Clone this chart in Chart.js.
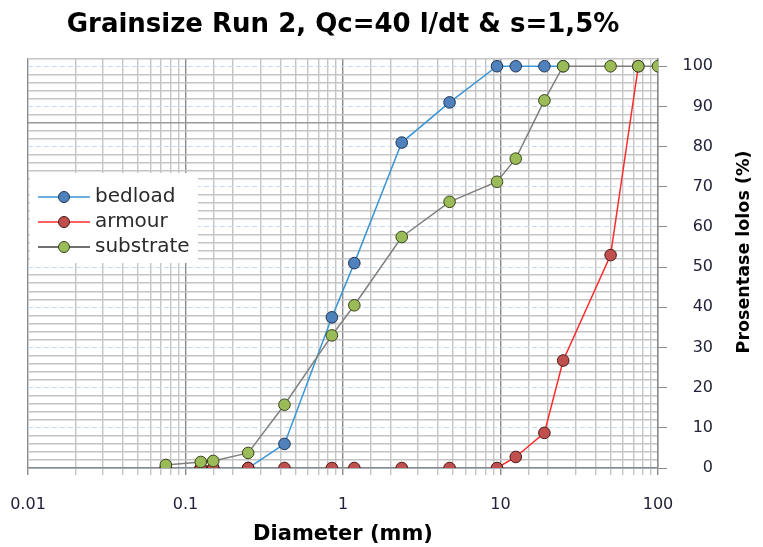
<!DOCTYPE html>
<html lang="en">
<head>
  <meta charset="UTF-8" />
  <title>Grainsize Run 2</title>
  <script src="https://cdn.jsdelivr.net/npm/chart.js"></script>
  <style>
    body {
      margin: 0;
      padding: 0;
      background: #fff;
    }
    canvas {
      display: block;
    }
  </style>
</head>
<body>
  <canvas id="myChart" width="763" height="547"></canvas>

  <script>
    // sieve sizes (mm)
    const sieves = [0.075, 0.125, 0.15, 0.25, 0.425, 0.85, 1.18, 2.36, 4.75, 9.5, 12.5, 19, 25, 50, 75, 100];

    // percent passing
    const bedload   = [0, 0, 0, 0, 6, 37.5, 51, 81, 91, 100, 100, 100, 100];
    const armour    = [0, 0, 0, 0, 0, 0, 0, 0, 0, 0, 2.75, 8.75, 26.75, 53, 100];
    const substrate = [0.75, 1.5, 1.75, 3.75, 15.75, 33, 40.5, 57.5, 66.25, 71.25, 77, 91.5, 100, 100, 100, 100];

    const xTickLabels = ['0.01', '0.1', '1', '10', '100'];
    const yTickLabels = [0, 10, 20, 30, 40, 50, 60, 70, 80, 90, 100];

    const titleText = 'Grainsize Run 2, Qc=40 l/dt & s=1,5%';
    const xTitle = 'Diameter (mm)';
    const yTitle = 'Prosentase lolos (%)';

    const toPoints = vals => vals.map((v, i) => ({ x: sieves[i], y: v }));
    const isDecade = v => Math.abs(Math.log10(v) - Math.round(Math.log10(v))) < 1e-9;

    // hide the flat runs along zero, like the original
    const hideZeroRuns = c => (c.p0.parsed.y === 0 && c.p1.parsed.y === 0) ? 'transparent' : undefined;

    const FONT = '"DejaVu Sans", sans-serif';

    const series = [
      { label: 'bedload', data: bedload, line: '#3a96d6', fill: '#4f81bd', edge: '#1e3553', order: 3 },
      { label: 'armour', data: armour, line: '#ff2b2b', fill: '#c0504d', edge: '#4a1816', order: 2 },
      { label: 'substrate', data: substrate, line: '#7f7f7f', fill: '#9bbb59', edge: '#37451c', order: 1 }
    ];

    // legend box + rotated right axis title
    const extras = {
      id: 'extras',
      afterDatasetsDraw(chart) {
        const ctx = chart.ctx;
        ctx.save();
        ctx.fillStyle = '#fff';
        ctx.fillRect(30, 173, 168, 90);

        ctx.font = '20px ' + FONT;
        ctx.textBaseline = 'middle';
        ctx.textAlign = 'left';
        series.forEach((s, i) => {
          const y = 197 + i * 25;
          ctx.strokeStyle = i === 2 ? '#404040' : s.line;
          ctx.lineWidth = 1.5;
          ctx.beginPath();
          ctx.moveTo(38, y);
          ctx.lineTo(90, y);
          ctx.stroke();
          ctx.beginPath();
          ctx.arc(64, y, 5.5, 0, Math.PI * 2);
          ctx.fillStyle = s.fill;
          ctx.fill();
          ctx.strokeStyle = s.edge;
          ctx.lineWidth = 1;
          ctx.stroke();
          ctx.fillStyle = '#2a2a2a';
          ctx.fillText(s.label, 95, y);
        });

        ctx.translate(744, 252);
        ctx.rotate(-Math.PI / 2);
        ctx.font = 'bold 17.5px ' + FONT;
        ctx.textAlign = 'center';
        ctx.fillStyle = '#000';
        ctx.fillText(yTitle, 0, 0);
        ctx.restore();
      }
    };

    const ctx = document.getElementById('myChart').getContext('2d');

    const chart = new Chart(ctx, {
      type: 'line',
      data: {
        datasets: series.map(s => ({
          label: s.label,
          data: toPoints(s.data),
          borderColor: s.line,
          borderWidth: 1.5,
          backgroundColor: s.fill,
          pointBackgroundColor: s.fill,
          pointBorderColor: s.edge,
          pointBorderWidth: 1,
          pointRadius: 5.8,
          tension: 0,
          order: s.order,
          segment: { borderColor: hideZeroRuns }
        }))
      },
      options: {
        responsive: false,
        animation: false,
        layout: { padding: { left: 28, right: 50, top: 0, bottom: 0 } },
        plugins: {
          legend: { display: false },
          tooltip: { enabled: false },
          title: {
            display: true,
            text: titleText,
            fullSize: false,
            color: '#000',
            font: { family: FONT, size: 26, weight: 'bold' },
            padding: { top: 10, bottom: 17 }
          }
        },
        scales: {
          x: {
            type: 'logarithmic',
            min: 0.01,
            max: 100,
            afterFit: s => { s.height = 79; },
            grid: {
              color: c => isDecade(c.tick.value) ? '#8a8a8a' : '#c4c4c4',
              tickColor: c => isDecade(c.tick.value) ? '#8a8a8a' : '#c4c4c4',
              lineWidth: 1.4,
              tickLength: 7
            },
            border: { color: '#8a8a8a', width: 1.4 },
            ticks: {
              autoSkip: false,
              maxRotation: 0,
              padding: 10,
              color: '#22223a',
              font: { family: FONT, size: 16, lineHeight: 2.5 },
              callback: v => {
                if (!isDecade(v)) return '';
                const lbl = String(+v.toPrecision(3));
                return xTickLabels.includes(lbl) ? lbl : '';
              }
            },
            title: {
              display: true,
              text: xTitle,
              color: '#000',
              font: { family: FONT, size: 21, weight: 'bold' },
              padding: { top: 0, bottom: 0 }
            }
          },
          y: {
            type: 'linear',
            position: 'right',
            min: 0,
            max: 102,
            afterFit: s => { s.width = 55; },
            grid: {
              color: c => {
                const v = c.tick.value;
                if (v % 10 === 0) return '#c6d9f1';
                if (v === 86) return '#9a9a9a';
                return '#c4c4c4';
              },
              lineWidth: c => (c.tick.value % 10 === 0) ? 1 : 1.4,
              tickColor: c => yTickLabels.includes(c.tick.value) ? '#8a8a8a' : 'transparent',
              tickLength: 9
            },
            border: {
              color: '#8a8a8a',
              width: 1.4,
              dash: c => (c.tick && c.tick.value % 10 === 0 && c.tick.value !== 0) ? [5, 3] : []
            },
            ticks: {
              stepSize: 2,
              autoSkip: false,
              crossAlign: 'far',
              padding: 15,
              color: '#22223a',
              font: { family: FONT, size: 16 },
              callback: v => yTickLabels.includes(v) ? String(v) : ''
            }
          }
        }
      },
      plugins: [extras]
    });
  </script>
</body>
</html>
